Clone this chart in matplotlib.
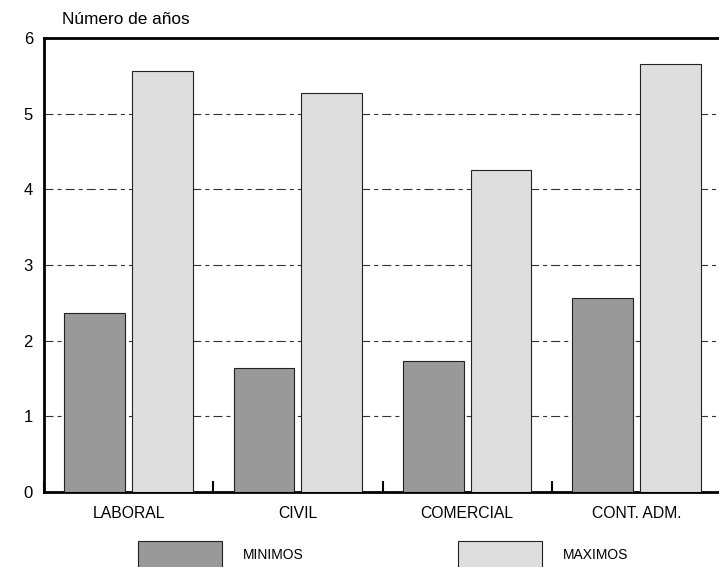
import matplotlib.pyplot as plt
from matplotlib.patches import Rectangle
import numpy as np

plt.rcParams['font.family'] = ['Liberation Sans', 'DejaVu Sans']
plt.rcParams['lines.scale_dashes'] = False

categorias = ['LABORAL', 'CIVIL', 'COMERCIAL', 'CONT. ADM.']
minimos = [2.36, 1.64, 1.73, 2.56]
maximos = [5.57, 5.27, 4.25, 5.65]

col_min = '#999999'
col_max = '#dedede'

fig = plt.figure(figsize=(7.19, 5.67), dpi=100)
ax = fig.add_axes([44 / 719, 75 / 567, 677 / 719, 454 / 567])

x = np.arange(len(categorias))
w = 0.36
ax.bar(x + 0.30, minimos, w, color=col_min, edgecolor='#222222', linewidth=0.8, zorder=3)
ax.bar(x + 0.70, maximos, w, color=col_max, edgecolor='#222222', linewidth=0.8, zorder=3)

ax.set_xlim(0, 4)
ax.set_ylim(0, 6)
ax.set_yticks(range(7))
ax.tick_params(axis='y', length=0, pad=8, labelsize=12)

ax.set_xticks(range(5))
ax.set_xticklabels([])
ax.set_xticks(x + 0.5, minor=True)
ax.set_xticklabels(categorias, minor=True)
ax.tick_params(axis='x', which='major', direction='in', length=8, width=1.5)
ax.tick_params(axis='x', which='minor', length=0, pad=10, labelsize=11.3)

for v in range(1, 6):
    ax.axhline(v, color='#333333', linewidth=0.8, dashes=(6.5, 2.9, 2.9, 2.9), zorder=1)

for s in ['left', 'top', 'bottom']:
    ax.spines[s].set_linewidth(2)
ax.spines['right'].set_visible(False)

fig.text(62 / 719, 1 - 19 / 567, 'Número de años', fontsize=12.4, va='center', ha='left')

# leyenda
for x0, col, lab in [(138, col_min, 'MINIMOS'), (458, col_max, 'MAXIMOS')]:
    fig.patches.append(Rectangle((x0 / 719, -0.01), 84 / 719, (567 - 541) / 567 + 0.01,
                                 transform=fig.transFigure, facecolor=col,
                                 edgecolor='#222222', linewidth=0.8))
    fig.text((x0 + 105) / 719, 1 - 555 / 567, lab, fontsize=10, va='center', ha='left')

fig.savefig('out.png', dpi=100)
